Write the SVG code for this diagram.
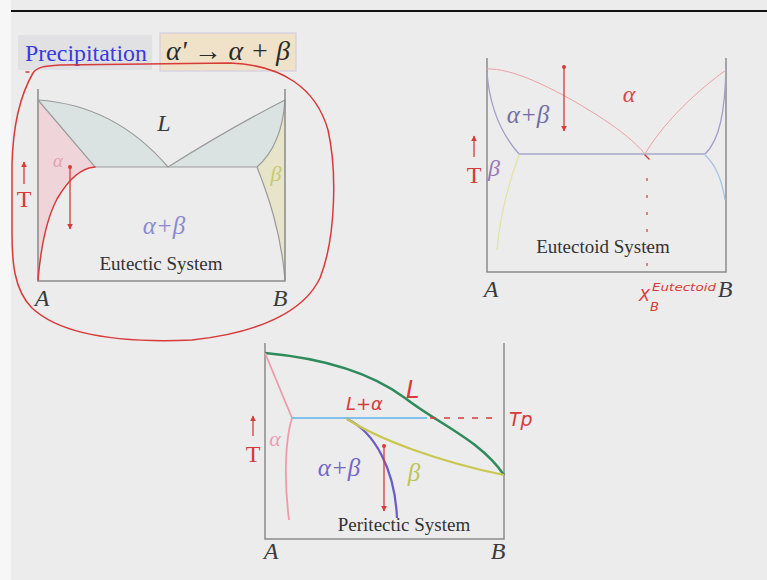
<svg xmlns="http://www.w3.org/2000/svg" width="767" height="580" viewBox="0 0 767 580">
<defs>
<style>
.ax{fill:none;stroke:#8a8a8a;stroke-width:1.5}
.ph{fill:none;stroke:#9a9a9a;stroke-width:1.2}
.red{fill:none;stroke:#d83a3a;stroke-width:1.5;stroke-linecap:round}
.arr{fill:none;stroke:#d83a3a;stroke-width:1.3;marker-start:url(#dot);marker-end:url(#ah)}
.tup{fill:none;stroke:#d83a3a;stroke-width:1.3;marker-end:url(#ah)}
.ser{font-family:"Liberation Serif","Times New Roman",serif}
.it{font-family:"Liberation Serif","Times New Roman",serif;font-style:italic}
.cap{font-family:"Liberation Serif","Times New Roman",serif;font-size:19px;fill:#333}
.ab{font-family:"Liberation Serif","Times New Roman",serif;font-style:italic;font-size:24px;fill:#3a3a3a}
.T{font-family:"Liberation Serif","Times New Roman",serif;font-size:24px;fill:#d83a3a}
.hw{font-family:"DejaVu Sans",sans-serif;font-style:italic;fill:#d83a3a}
</style>
<marker id="ah" viewBox="0 0 10 10" refX="9" refY="5" markerWidth="6" markerHeight="6" orient="auto" markerUnits="userSpaceOnUse"><path d="M0,0 L10,5 L0,10 Z" fill="#d83a3a"/></marker>
<marker id="dot" viewBox="0 0 10 10" refX="5" refY="5" markerWidth="4" markerHeight="4" markerUnits="userSpaceOnUse"><circle cx="5" cy="5" r="5" fill="#d83a3a"/></marker>
</defs>

<rect x="0" y="0" width="767" height="580" fill="#ececec"/>
<rect x="0" y="0" width="11" height="580" fill="#f7f7f7"/>
<line x1="11" y1="11" x2="767" y2="11" stroke="#111" stroke-width="2"/>

<g id="title">
<rect x="18" y="35" width="134" height="35" fill="#e1e1e3"/>
<text x="25" y="61" class="ser" font-size="23" fill="#3a3ae0" textLength="122" lengthAdjust="spacingAndGlyphs">Precipitation</text>
<rect x="160" y="33" width="136" height="38" fill="#efe2c8" stroke="#cfc6e4" stroke-width="1"/>
<text x="166" y="60" class="it" font-size="27" fill="#2a2a2a" textLength="124" lengthAdjust="spacingAndGlyphs">α' → α + β</text>
</g>

<g id="eutectic">
<path d="M38,100 Q115,105 168,167 L95,167 Z" fill="#dae2e2"/>
<path d="M285,100 Q230,128 168,167 L257,167 Q282,145 285,100 Z" fill="#dae2e2"/>
<path d="M38,100 L95,167 C78,168 64,182 56,200 C47,222 40,250 38,280 Z" fill="#efd5da"/>
<path d="M285,100 Q282,145 257,167 C268,195 281,232 285,280 Z" fill="#e7e5c9"/>
<path class="ph" d="M38,100 Q115,105 168,167 Q230,128 285,100"/>
<path class="ph" d="M38,100 L95,167 L257,167 Q282,145 285,100"/>
<path class="ph" d="M257,167 C268,195 281,232 285,280"/>
<path class="ax" d="M38,89 L38,281 L285,281 L285,89"/>
<path class="red" d="M38,280 C41,245 47,218 57,199 C68,180 80,168 95,167"/>
<line class="arr" x1="70" y1="167" x2="70" y2="229"/>
<line class="tup" x1="24" y1="184" x2="24" y2="162"/>
<text x="24" y="207" class="T" text-anchor="middle">T</text>
<text x="58" y="167" class="it" font-size="19" fill="#e7a0b0" text-anchor="middle">α</text>
<text x="276" y="181" class="it" font-size="22" fill="#c8c870" text-anchor="middle">β</text>
<text x="164" y="234" class="it" font-size="25" fill="#8a8ad0" text-anchor="middle">α+β</text>
<text x="161" y="270" class="cap" text-anchor="middle">Eutectic System</text>
<text x="42" y="306" class="ab" text-anchor="middle">A</text>
<text x="280" y="306" class="ab" text-anchor="middle">B</text>
<text x="164" y="131" class="ab" text-anchor="middle">L</text>
</g>

<g id="loop">
<path class="red" d="M33,73 C37,67 44,66 60,65 L230,63 C282,65 316,88 328,130 C337,170 336,238 320,278 C304,312 258,333 192,340 C122,343 62,336 32,308 C14,290 12,262 12,232 L12,165 C13,122 22,92 33,73"/>
<path class="red" d="M26,72 L29,72"/>
</g>

<g id="eutectoid">
<path class="ax" d="M487,58 L487,272 L726,272 L726,58"/>
<path d="M487,73 C490,110 503,136 519,154" fill="none" stroke="#a0a0c8" stroke-width="1.3"/>
<path d="M726,68 C725,110 720,140 705,154" fill="none" stroke="#a0a0c8" stroke-width="1.3"/>
<line x1="519" y1="154" x2="705" y2="154" stroke="#a8a8cc" stroke-width="1.5"/>
<path d="M519,155 C508,185 500,215 497,250" fill="none" stroke="#e2e2a8" stroke-width="1.3"/>
<path d="M705,155 C716,165 722,180 725,200" fill="none" stroke="#a8c4e4" stroke-width="1.3"/>
<path d="M487,69 C510,68 550,85 600,117 C620,130 635,142 645,154" fill="none" stroke="#eaa2a6" stroke-width="1"/>
<path d="M645,154 C660,128 690,96 726,70" fill="none" stroke="#eaa2a6" stroke-width="1"/>
<path class="red" d="M645,155 L649,159"/>
<line x1="647" y1="178" x2="647" y2="270" stroke="#d83a3a" stroke-width="1.2" stroke-dasharray="3,14"/>
<line class="arr" x1="564" y1="67" x2="564" y2="131"/>
<line class="tup" x1="474" y1="157" x2="474" y2="136"/>
<text x="474" y="183" class="T" text-anchor="middle">T</text>
<text x="528" y="123" class="it" font-size="25" fill="#7070a4" text-anchor="middle">α+β</text>
<text x="629" y="102" class="it" font-size="24" fill="#d84848" text-anchor="middle">α</text>
<text x="494" y="176" class="it" font-size="24" fill="#9a78b8" text-anchor="middle">β</text>
<text x="603" y="253" class="cap" text-anchor="middle">Eutectoid System</text>
<text x="491" y="297" class="ab" text-anchor="middle">A</text>
<text x="725" y="297" class="ab" text-anchor="middle">B</text>
<text x="639" y="301" class="hw" font-size="16">X</text>
<text x="652" y="291" class="hw" font-size="10" textLength="64" lengthAdjust="spacingAndGlyphs">Eutectoid</text>
<text x="650" y="311" class="hw" font-size="13">B</text>
</g>

<g id="peritectic">
<path class="ax" d="M265,343 L265,539 L504,539 L504,343"/>
<path d="M265,353 C320,358 370,372 405,398 C440,425 480,440 504,475" fill="none" stroke="#2f8a5c" stroke-width="2.5"/>
<path d="M265,353 L292,418 C285,440 284,480 289,520" fill="none" stroke="#ec9cae" stroke-width="1.8"/>
<line x1="292" y1="418" x2="427" y2="418" stroke="#80c0ea" stroke-width="2"/>
<path d="M347,419 C375,432 395,470 397,518" fill="none" stroke="#6a5cc4" stroke-width="2.2"/>
<path d="M347,419 C380,440 440,462 504,475" fill="none" stroke="#c8c850" stroke-width="2.2"/>
<line x1="430" y1="418" x2="492" y2="418" stroke="#d83a3a" stroke-width="1.3" stroke-dasharray="6,8"/>
<line class="arr" x1="384" y1="446" x2="384" y2="511"/>
<line class="tup" x1="253" y1="436" x2="253" y2="416"/>
<text x="253" y="462" class="T" text-anchor="middle">T</text>
<text x="275" y="446" class="it" font-size="22" fill="#ec9cae" text-anchor="middle">α</text>
<text x="339" y="476" class="it" font-size="25" fill="#7466c8" text-anchor="middle">α+β</text>
<text x="414" y="481" class="it" font-size="25" fill="#bcc458" text-anchor="middle">β</text>
<text x="404" y="531" class="cap" text-anchor="middle">Peritectic System</text>
<text x="271" y="559" class="ab" text-anchor="middle">A</text>
<text x="498" y="559" class="ab" text-anchor="middle">B</text>
<text x="346" y="410" class="hw" font-size="18">L+α</text>
<text x="406" y="398" class="hw" font-size="24">L</text>
<text x="509" y="426" class="hw" font-size="19">Tp</text>
</g>
</svg>
